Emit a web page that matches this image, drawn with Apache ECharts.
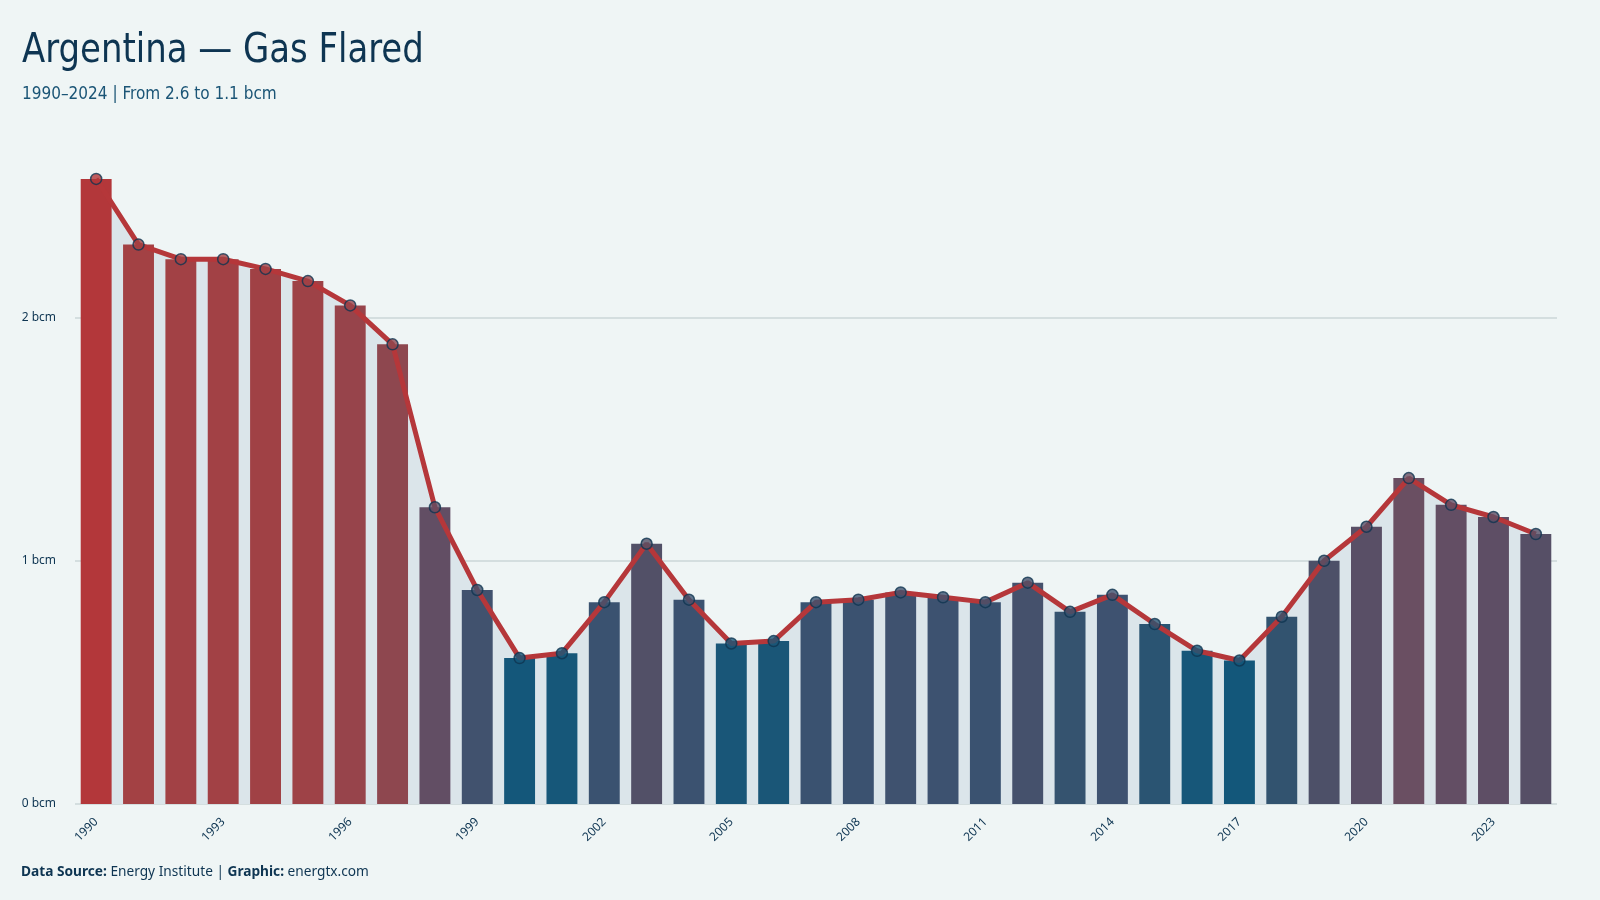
<!DOCTYPE html>
<html>
<head>
<meta charset="utf-8">
<title>Argentina — Gas Flared</title>
<script src="https://cdn.jsdelivr.net/npm/echarts@6/dist/echarts.min.js"></script>
<style>
  html, body { margin: 0; padding: 0; background: #eff5f5; }
  #chart { width: 1600px; height: 900px; }
</style>
</head>
<body>
<div id="chart"></div>
<script>
// data (billion cubic metres)
var years = ['1990','1991','1992','1993','1994','1995','1996','1997','1998','1999',
  '2000','2001','2002','2003','2004','2005','2006','2007','2008','2009',
  '2010','2011','2012','2013','2014','2015','2016','2017','2018','2019',
  '2020','2021','2022','2023','2024'];
var flared = [2.57, 2.30, 2.24, 2.24, 2.20, 2.15, 2.05, 1.89, 1.22, 0.88,
  0.60, 0.62, 0.83, 1.07, 0.84, 0.66, 0.67, 0.83, 0.84, 0.87,
  0.85, 0.83, 0.91, 0.79, 0.86, 0.74, 0.63, 0.59, 0.77, 1.00,
  1.14, 1.34, 1.23, 1.18, 1.11];
var gridValues = [0, 1, 2];

// blue -> purple -> red ramp, evenly spaced between the lowest and highest value
var rampColors = ['#13577a', '#1b5677', '#32536f', '#3e5270', '#4a5069', '#4f5068',
  '#584f66', '#624e64', '#684f63', '#6d4e61', '#724d5e', '#774c5b', '#7e4a57',
  '#854953', '#8c4750', '#91464e', '#96444c', '#9c4248', '#a14145', '#a34144',
  '#a83e40', '#ad3b3d', '#b3373a'];

var condensed = "'DejaVu Sans Condensed', 'Liberation Sans Narrow', sans-serif";
var plain = "'Noto Sans', 'Open Sans', sans-serif";

var chart = echarts.init(document.getElementById('chart'), null, {renderer: 'canvas'});

var option = {
  backgroundColor: '#eff5f5',
  animation: false,
  grid: {left: 75, right: 43, top: 123, bottom: 96},
  xAxis: {
    type: 'category',
    data: years,
    axisLine: {show: false},
    axisTick: {show: false},
    axisLabel: {
      interval: 2, rotate: 45, margin: 16,
      fontFamily: plain, fontSize: 12, color: '#0e3552'
    }
  },
  yAxis: {
    type: 'value',
    min: 0, max: 2.8, interval: 1,
    splitLine: {show: false},
    axisLine: {show: false},
    axisTick: {show: false},
    axisLabel: {
      margin: 19, showMaxLabel: false,
      fontFamily: plain, fontSize: 12, color: '#0e3552',
      formatter: function (v) { return Number.isInteger(v) ? v + ' bcm' : ''; }
    }
  },
  visualMap: {
    show: false,
    type: 'continuous',
    seriesIndex: [1, 3],
    dimension: 1,
    min: 0.59, max: 2.57,
    inRange: {color: rampColors}
  },
  series: [
    {
      // light area under the line, grid lines kept beneath it
      type: 'line', z: 1, silent: true,
      data: flared,
      symbol: 'none',
      lineStyle: {width: 0},
      areaStyle: {color: '#dbe5ea', opacity: 1},
      markLine: {
        z: 0, silent: true, symbol: 'none', label: {show: false},
        lineStyle: {color: '#cbd6d7', width: 1.5, type: 'solid'},
        data: gridValues.map(function (v) { return {yAxis: v}; })
      }
    },
    {
      type: 'bar', z: 2,
      data: flared,
      barWidth: '73%'
    },
    {
      type: 'line', z: 3,
      data: flared,
      symbol: 'none',
      lineStyle: {color: '#b5373a', width: 5}
    },
    {
      type: 'scatter', z: 4,
      data: flared,
      symbol: 'circle', symbolSize: 11,
      itemStyle: {borderColor: '#0f3550', borderWidth: 1.5}
    }
  ],
  graphic: [
    {
      type: 'text',
      x: 22, y: 31, scaleX: 0.92,
      style: {
        text: 'Argentina — Gas Flared',
        fontFamily: condensed, fontSize: 41, fill: '#0e3552',
        verticalAlign: 'top'
      }
    },
    {
      type: 'text',
      x: 22, y: 85, scaleX: 0.92,
      style: {
        text: '1990–2024 | From 2.6 to 1.1 bcm',
        fontFamily: condensed, fontSize: 18.5, fill: '#1b5576',
        verticalAlign: 'top'
      }
    },
    {
      type: 'text',
      left: 21, top: 865,
      style: {
        text: '{b|Data Source:} Energy Institute {s||} {b|Graphic:} energtx.com',
        fontFamily: plain, fontSize: 13.7, fill: '#0e3552',
        rich: {
          b: {fontFamily: plain, fontSize: 13.7, fontWeight: 'bold', color: '#0e3552'},
          s: {fontFamily: plain, fontSize: 13.7, color: '#8aa0ad'}
        }
      }
    }
  ]
};

chart.setOption(option);
</script>
</body>
</html>
